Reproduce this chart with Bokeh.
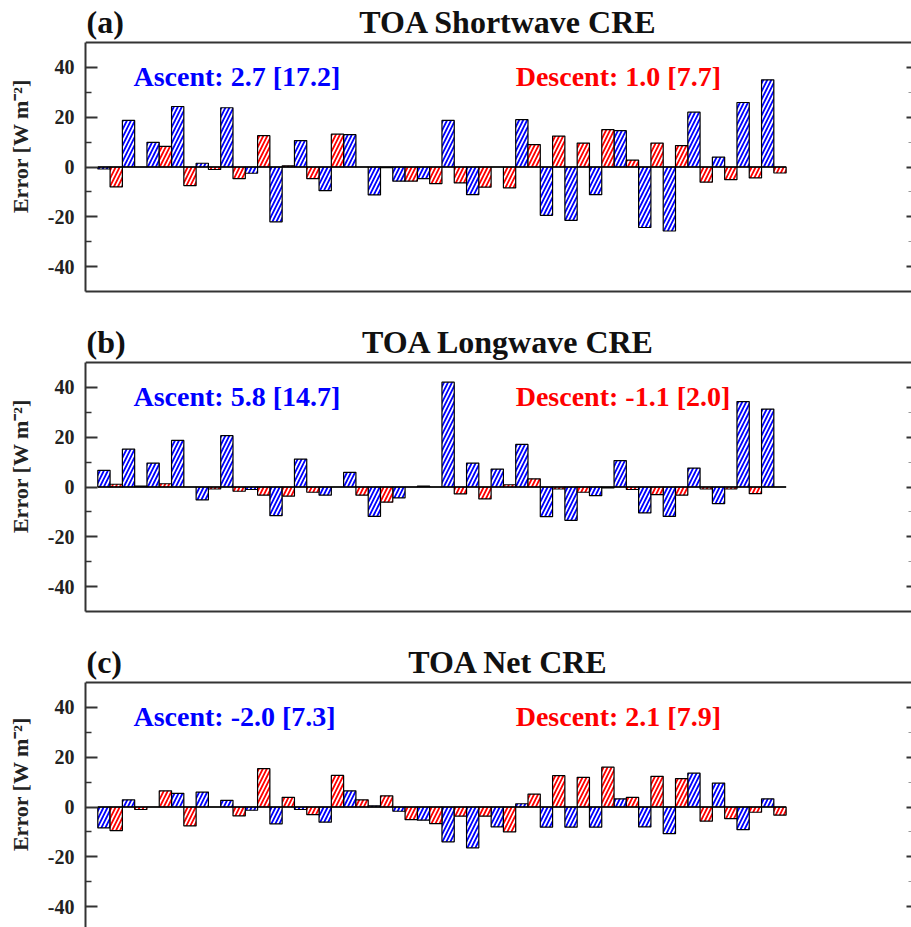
from bokeh.plotting import figure
from bokeh.layouts import column
from bokeh.models import ColumnDataSource, Label, LinearAxis, FixedTicker, Range1d, Span
from bokeh.embed import file_html
from bokeh.resources import INLINE

# ---------------- data ----------------
models = list(range(1, 29))

sw_ascent = [-0.8, 18.7, 9.9, 24.3, 1.5, 23.8, -2.5, -22.0, 10.6, -9.5, 13.0, -11.2, -5.7, -4.7,
             18.7, -11.1, 0.0, 19.0, -19.4, -21.4, -11.1, 14.6, -24.3, -25.7, 22.0, 4.0, 25.9, 35.0]
sw_descent = [-8.0, 0.0, 8.3, -7.5, -1.0, -4.7, 12.6, 0.5, -4.7, 13.2, 0.0, -0.3, -5.7, -6.7,
              -6.4, -8.1, -8.4, 9.0, 12.4, 9.6, 15.0, 2.8, 9.6, 8.6, -6.1, -5.1, -4.4, -2.4]

lw_ascent = [6.7, 15.2, 9.6, 18.7, -5.2, 20.6, -1.0, -11.5, 11.2, -3.3, 5.9, -11.8, -4.4, 0.4,
             42.1, 9.6, 7.2, 17.1, -11.9, -13.4, -3.5, 10.6, -10.4, -11.8, 7.6, -6.7, 34.3, 31.3]
lw_descent = [1.1, 0.4, 1.3, 0.0, -0.8, -1.7, -3.3, -3.7, -2.1, 0.0, -3.3, -6.1, 0.0, 0.0,
              -2.8, -4.8, 0.9, 3.3, -0.8, -2.1, -0.4, -1.0, -3.1, -3.3, -0.8, -0.8, -2.7, 0.0]

net_ascent = [-8.4, 2.9, 0.0, 5.5, 6.0, 2.7, -1.3, -6.8, -1.0, -6.1, 6.5, 0.5, -1.7, -5.3,
              -14.0, -16.4, -8.0, 1.3, -8.1, -8.1, -8.1, 3.3, -8.0, -10.7, 13.6, 9.6, -9.1, 3.3]
net_descent = [-9.5, -1.0, 6.5, -7.6, 0.0, -3.6, 15.4, 3.9, -3.1, 12.7, 2.9, 4.5, -5.1, -6.7,
               -3.7, -3.7, -10.0, 5.2, 12.6, 11.9, 16.0, 3.9, 12.3, 11.4, -5.7, -4.7, -2.1, -3.3]

panel_tags = ["(a)", "(b)", "(c)"]
panel_titles = ["TOA Shortwave CRE", "TOA Longwave CRE", "TOA Net CRE"]
ascent_texts = ["Ascent: 2.7 [17.2]", "Ascent: 5.8 [14.7]", "Ascent: -2.0 [7.3]"]
descent_texts = ["Descent: 1.0 [7.7]", "Descent: -1.1 [2.0]", "Descent: 2.1 [7.9]"]

y_ticks = [-40, -20, 0, 20, 40]
y_minor = [-30, -10, 10, 30]
y_tick_labels = ["-40", "-20", "0", "20", "40"]
y_lo, y_hi = -50, 50

FONT = "Liberation Serif"
BLUE = "#0000ff"
RED = "#ff0000"
PX_PER_UNIT = 2.49      # vertical scale of each panel
TOP_PAD = 42            # pixels between figure top and the y=50 border


def make_panel(tag, title, asc, desc, asc_txt, desc_txt, height, bottom_border):
    bottom_pad = 29 if bottom_border else 0
    frame_h = height - bottom_pad
    y_top = y_hi + TOP_PAD / PX_PER_UNIT
    y_start = y_top - frame_h / PX_PER_UNIT
    p = figure(width=911, height=height,
               x_range=Range1d(0, 33.6), y_range=Range1d(y_start, y_top),
               output_backend="svg", toolbar_location=None, x_axis_location=None,
               min_border_left=85, min_border_right=0, min_border_top=0,
               min_border_bottom=bottom_pad,
               outline_line_color=None, background_fill_color="white",
               border_fill_color="white")
    p.grid.visible = False

    src = ColumnDataSource(dict(
        xa=[m - 0.25 for m in models], xd=[m + 0.25 for m in models],
        asc=asc, desc=desc))
    p.vbar(x="xa", top="asc", bottom=0, width=0.5, source=src,
           fill_color="white", line_color="black", line_width=1.2,
           hatch_pattern="/", hatch_color=BLUE, hatch_weight=1.8, hatch_scale=8)
    p.vbar(x="xd", top="desc", bottom=0, width=0.5, source=src,
           fill_color="white", line_color="black", line_width=1.2,
           hatch_pattern="/", hatch_color=RED, hatch_weight=1.8, hatch_scale=8)
    # zero reference line spanning the bars
    p.segment(x0=[models[0] - 0.5], x1=[models[-1] + 0.5], y0=[0], y1=[0],
              line_color="black", line_width=1.5)

    ya = p.yaxis[0]
    ya.bounds = (y_lo, y_hi)
    ya.ticker = FixedTicker(ticks=y_ticks, minor_ticks=y_minor)
    ya.major_label_overrides = {t: s for t, s in zip(y_ticks, y_tick_labels)}
    ya.major_tick_in = 12
    ya.major_tick_out = 0
    ya.minor_tick_in = 6
    ya.minor_tick_out = 0
    ya.major_tick_line_width = 2
    ya.minor_tick_line_width = 1.5
    ya.axis_line_width = 2
    ya.axis_line_color = "#333333"
    ya.major_tick_line_color = "#333333"
    ya.minor_tick_line_color = "#333333"
    ya.major_label_standoff = 11
    ya.major_label_text_font = FONT
    ya.major_label_text_font_style = "bold"
    ya.major_label_text_font_size = "20px"
    ya.major_label_text_color = "#222222"
    ya.axis_label = "Error [W m\u207b\u00b2]"
    ya.axis_label_text_font = FONT
    ya.axis_label_text_font_style = "bold"
    ya.axis_label_text_font_size = "22px"
    ya.axis_label_standoff = 12
    ya.axis_label_text_color = "#222222"

    # top border of the panel
    p.add_layout(Span(location=y_hi, dimension="width", line_color="#333333", line_width=2))
    if bottom_border:
        bot = LinearAxis(ticker=FixedTicker(ticks=[]), axis_line_width=2, axis_line_color="#333333",
                         major_tick_in=0, major_tick_out=0, minor_tick_in=0, minor_tick_out=0)
        p.add_layout(bot, "below")
    right = LinearAxis(ticker=FixedTicker(ticks=y_ticks, minor_ticks=y_minor),
                       bounds=(y_lo, y_hi),
                       axis_line_color=None, major_tick_in=5, major_tick_out=0,
                       minor_tick_in=3, minor_tick_out=0, major_tick_line_width=2,
                       minor_tick_line_width=1.2, major_tick_line_color="#333333",
                       minor_tick_line_color="#999999", major_label_standoff=0,
                       major_label_overrides={t: "" for t in y_ticks})
    p.add_layout(right, "right")

    p.add_layout(Label(x=0.04, y=58.4, text=tag, text_font=FONT, text_font_style="bold",
                       text_font_size="32px", text_color="#111111",
                       text_baseline="alphabetic", text_align="left"))
    p.add_layout(Label(x=17.2, y=58.4, text=title, text_font=FONT, text_font_style="bold",
                       text_font_size="32px", text_color="#111111",
                       text_baseline="alphabetic", text_align="center"))
    p.add_layout(Label(x=1.95, y=36.2, text=asc_txt, text_font=FONT, text_font_style="bold",
                       text_font_size="28px", text_color=BLUE,
                       text_baseline="alphabetic", text_align="left"))
    p.add_layout(Label(x=17.5, y=36.2, text=desc_txt, text_font=FONT, text_font_style="bold",
                       text_font_size="28px", text_color=RED,
                       text_baseline="alphabetic", text_align="left"))
    return p


series = [(sw_ascent, sw_descent), (lw_ascent, lw_descent), (net_ascent, net_descent)]
figs = []
for i in range(3):
    last = i == 2
    figs.append(make_panel(panel_tags[i], panel_titles[i], series[i][0], series[i][1],
                           ascent_texts[i], descent_texts[i],
                           287 if last else 320, not last))

layout = column(*figs, spacing=0)
open("out.html", "w").write(file_html(layout, INLINE))
